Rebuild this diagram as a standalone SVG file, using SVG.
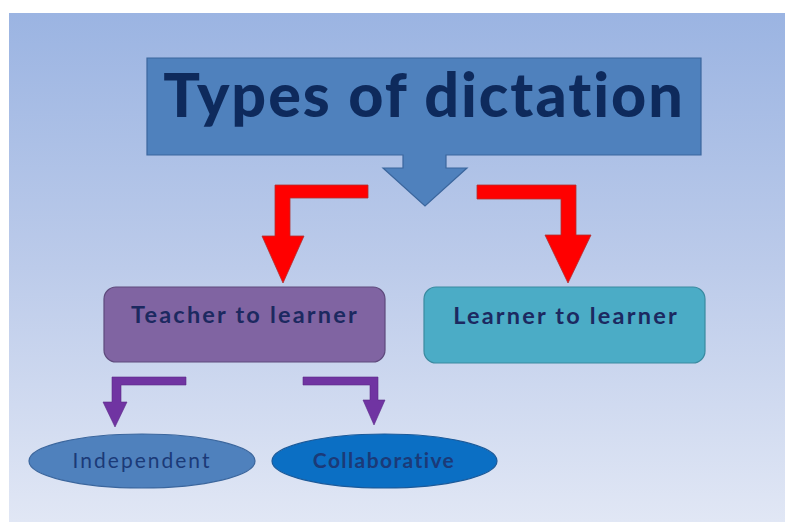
<svg xmlns="http://www.w3.org/2000/svg" width="785" height="523" viewBox="0 0 785 523">
  <defs>
    <linearGradient id="bg" x1="0" y1="0" x2="0" y2="1">
      <stop offset="0" stop-color="#9bb4e2"/>
      <stop offset="0.5" stop-color="#bccbea"/>
      <stop offset="1" stop-color="#e1e7f5"/>
    </linearGradient>
    <style>
      text { font-variant-ligatures: none; }
      .title { font-family: Lato, "Open Sans", "Liberation Sans", sans-serif; font-weight: 900; fill: #0e2a5c; }
      .box-label { font-family: Lato, "Open Sans", "Liberation Sans", sans-serif; font-weight: bold; fill: #1c2960; }
      .oval-label { font-family: Lato, "Open Sans", "Liberation Sans", sans-serif; fill: #1b3a78; }
      .red-arrow { fill: #ff0000; stroke: #b03030; stroke-width: 0.8; }
      .purple-arrow { fill: #7034a2; stroke: #5a2a88; stroke-width: 0.6; }
    </style>
  </defs>

  <!-- page and slide background -->
  <rect x="0" y="0" width="785" height="523" fill="#ffffff"/>
  <rect x="9" y="13" width="776" height="509" fill="url(#bg)"/>

  <!-- title block with its down arrow -->
  <g id="title">
    <path d="M147,58 H701 V155 H446 V168 H467 L425,206 L383,168 H403 V155 H147 Z" fill="#4f81bd" stroke="#3b669d" stroke-width="1.2"/>
    <text class="title" x="424" y="117" text-anchor="middle" font-size="61" letter-spacing="2">Types of dictation</text>
  </g>

  <g id="teacher-to-learner">
    <rect x="104" y="287" width="281" height="75" rx="12" fill="#8064a2" stroke="#5e4a7c" stroke-width="1.2"/>
    <text class="box-label" x="245" y="323" text-anchor="middle" font-size="23.5" letter-spacing="2.2">Teacher to learner</text>
  </g>

  <g id="learner-to-learner">
    <rect x="424" y="287" width="281" height="76" rx="12" fill="#4bacc6" stroke="#3a8aa0" stroke-width="1.2"/>
    <text class="box-label" x="566" y="324" text-anchor="middle" font-size="23.5" letter-spacing="2.2">Learner to learner</text>
  </g>

  <g id="independent">
    <ellipse cx="142" cy="461" rx="113" ry="27" fill="#4f81bd" stroke="#3b669d" stroke-width="1.2"/>
    <text class="oval-label" x="142" y="468" text-anchor="middle" font-size="21" letter-spacing="2">Independent</text>
  </g>

  <g id="collaborative">
    <ellipse cx="384.5" cy="461" rx="112.5" ry="27" fill="#0b6fc4" stroke="#1b5a9a" stroke-width="1.2"/>
    <text class="oval-label" x="384" y="468" text-anchor="middle" font-size="21" font-weight="bold" letter-spacing="1.4">Collaborative</text>
  </g>

  <!-- connectors -->
  <g id="connectors">
    <path class="red-arrow" d="M368,185 H275 V236 H262 L283,283 L304,236 H290 V198 H368 Z"/>
    <path class="red-arrow" d="M477,185 H576 V235 H591 L568,283 L545,235 H561 V199 H477 Z"/>
    <path class="purple-arrow" d="M186,377 H112 V402 H103 L115,427 L127,402 H121 V385 H186 Z"/>
    <path class="purple-arrow" d="M303,377 H378 V400 H385 L374,425 L363,400 H370 V385 H303 Z"/>
  </g>
</svg>
